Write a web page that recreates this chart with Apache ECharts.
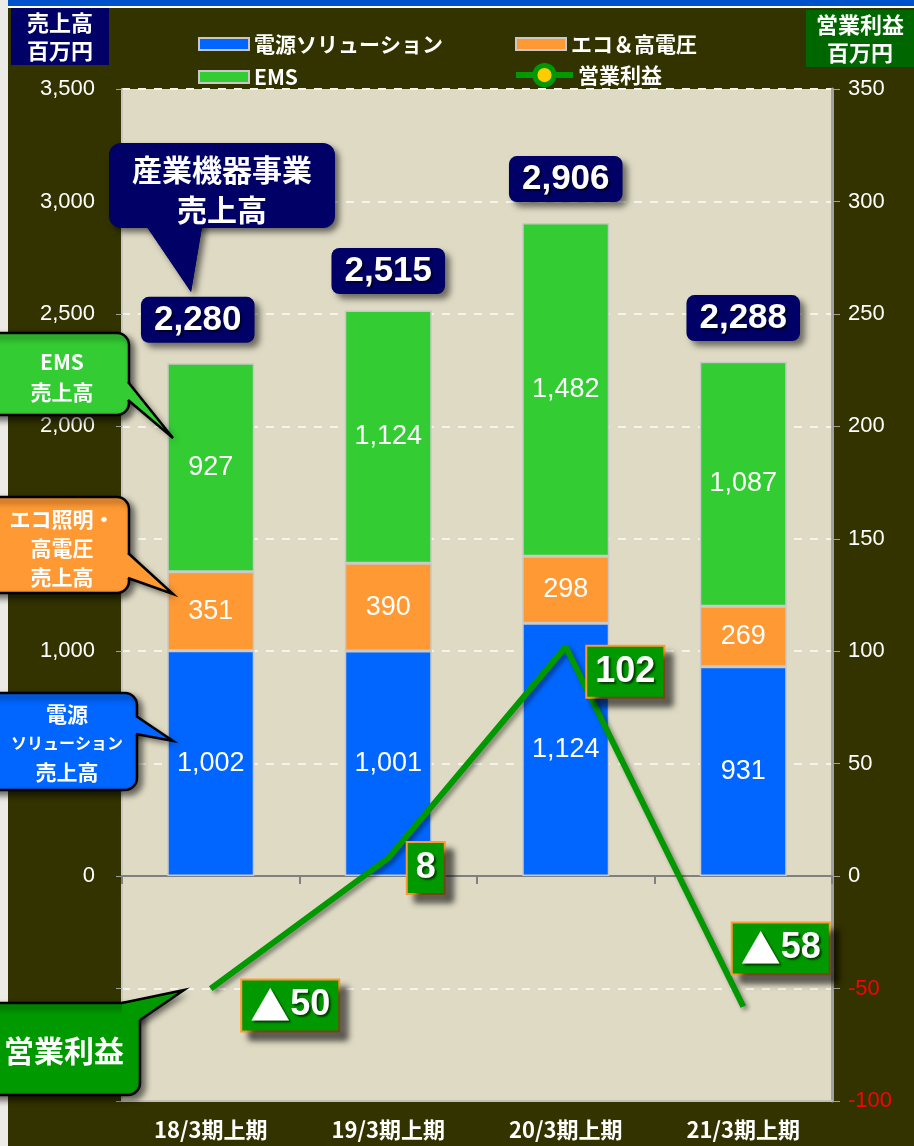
<!DOCTYPE html>
<html lang="ja">
<head>
<meta charset="utf-8">
<title>産業機器事業 売上高・営業利益</title>
<script src="https://cdn.jsdelivr.net/npm/echarts@6.0.0/dist/echarts.min.js"></script>
<style>
  html, body { margin: 0; padding: 0; background: #333300; }
  #chart { width: 914px; height: 1146px; }
</style>
</head>
<body>
<div id="chart"></div>
<script>
// data (百万円)
const categories = ['18/3期上期', '19/3期上期', '20/3期上期', '21/3期上期']
const powerSolution = [1002, 1001, 1124, 931]
const ecoHighVoltage = [351, 390, 298, 269]
const ems = [927, 1124, 1482, 1087]
const salesTotal = [2280, 2515, 2906, 2288]
const operatingProfit = [-50, 8, 102, -58]
const salesRange = [-1000, 3500, 500]
const profitRange = [-100, 350, 50]

const jp = "'Noto Sans CJK JP', sans-serif"
const num = "'Liberation Sans', Arial, sans-serif"
const fmt = (v) => v.toLocaleString('en-US')

// label nudges so the boxes sit where the original put them
const totalOffsets = [[-13, 0], [0, 4], [0, 0], [0, 0]]
const profitOffsets = [[31, 17], [19, 10], [21, 25], [-11, -58]]

const barSeries = (name, data, color) => ({
  name,
  type: 'bar',
  stack: 'sales',
  data,
  barWidth: '49%',
  itemStyle: { color, borderColor: '#c8c8c8', borderWidth: 1.5 },
  label: {
    show: true,
    position: 'inside',
    color: '#fff',
    fontSize: 27,
    fontFamily: num,
    formatter: (p) => fmt(p.value),
  },
})

const callout = ({ fill, rect, base, tip, text, font, lineHeight, cx, cy, stroke = true, rich }) => {
  const [b1, b2, b1in, b2in] = base
  const shadow = { shadowBlur: 6, shadowColor: 'rgba(0,0,0,0.55)', shadowOffsetX: 4, shadowOffsetY: 4 }
  const items = [
    {
      type: 'polygon',
      shape: { points: [b1in, b1, tip, b2, b2in] },
      style: { fill, ...shadow },
    },
    {
      type: 'rect',
      shape: { x: rect[0], y: rect[1], width: rect[2], height: rect[3], r: 12 },
      style: { fill, stroke: stroke ? '#000' : null, lineWidth: 2.5, ...shadow },
    },
    {
      type: 'polygon',
      shape: { points: [b1in, b1, tip, b2, b2in] },
      style: { fill },
    },
  ]
  if (stroke) {
    items.push({
      type: 'polyline',
      shape: { points: [b1, tip, b2] },
      style: { stroke: '#000', lineWidth: 2.5, fill: null },
    })
  }
  items.push({
    type: 'text',
    x: cx,
    y: cy,
    style: {
      text,
      fill: '#fff',
      font,
      lineHeight,
      align: 'center',
      verticalAlign: 'middle',
      rich,
    },
  })
  return items
}

const legendText = { color: '#fff', fontSize: 21, fontWeight: 'bold', fontFamily: jp, lineHeight: 24 }

const chart = echarts.init(document.getElementById('chart'))

chart.setOption({
  animation: false,
  backgroundColor: '#333300',
  grid: {
    left: 122,
    right: 82,
    top: 89,
    bottom: 45,
    show: true,
    backgroundColor: '#dedac4',
    borderWidth: 0,
  },
  legend: [
    {
      data: [
        { name: '電源ソリューション', icon: 'rect' },
        { name: 'EMS', icon: 'rect' },
      ],
      orient: 'vertical',
      left: 193,
      top: 27,
      itemWidth: 50,
      itemHeight: 12,
      itemGap: 9,
      textStyle: legendText,
    },
    {
      data: [{ name: 'エコ＆高電圧', icon: 'rect' }],
      orient: 'vertical',
      left: 510,
      top: 27,
      itemWidth: 50,
      itemHeight: 12,
      textStyle: legendText,
    },
    {
      data: [
        {
          name: '営業利益',
          itemStyle: { color: '#ffcc00', borderColor: '#009900', borderWidth: 5 },
          lineStyle: { color: '#009900', width: 6 },
        },
      ],
      orient: 'vertical',
      left: 508,
      top: 58,
      itemWidth: 57,
      itemHeight: 24,
      textStyle: legendText,
    },
  ],
  xAxis: [
    {
      type: 'category',
      data: categories,
      position: 'bottom',
      axisLine: { show: true, onZero: false, lineStyle: { color: '#c0c0b8', width: 2 } },
      axisTick: { show: false },
      axisLabel: { color: '#fff', fontSize: 22, fontWeight: 'bold', fontFamily: jp, margin: 18 },
    },
    {
      type: 'category',
      data: categories,
      position: 'bottom',
      axisLine: { show: true, onZero: true, lineStyle: { color: '#808080', width: 2 } },
      axisTick: { show: true, length: 8, lineStyle: { color: '#808080', width: 2 } },
      axisLabel: { show: false },
    },
  ],
  yAxis: [
    {
      type: 'value',
      min: salesRange[0],
      max: salesRange[1],
      interval: salesRange[2],
      position: 'left',
      axisLine: { show: true, lineStyle: { color: '#c8c8c0', width: 2 } },
      axisTick: { show: true, length: 6, lineStyle: { color: '#a0a0a0' } },
      axisLabel: {
        color: '#fff',
        fontSize: 22,
        fontFamily: num,
        margin: 27,
        formatter: (v) => (v < 0 ? '' : fmt(v)),
      },
      splitLine: { show: true, lineStyle: { color: '#f4f4ee', type: [8, 8], width: 2 } },
    },
    {
      type: 'value',
      min: profitRange[0],
      max: profitRange[1],
      interval: profitRange[2],
      position: 'right',
      axisLine: { show: true, lineStyle: { color: '#a0a0a0', width: 3 } },
      axisTick: { show: true, length: 8, lineStyle: { color: '#a0a0a0' } },
      axisLabel: {
        fontSize: 22,
        fontFamily: num,
        margin: 16,
        color: (v) => (Number(v) < 0 ? '#ff0000' : '#fff'),
      },
      splitLine: { show: false },
    },
  ],
  series: [
    barSeries('電源ソリューション', powerSolution, '#0066ff'),
    barSeries('エコ＆高電圧', ecoHighVoltage, '#ff9933'),
    barSeries('EMS', ems, '#33cc33'),
    {
      name: 'total',
      type: 'scatter',
      data: salesTotal.map((v, i) => ({ value: v, label: { offset: totalOffsets[i] } })),
      symbolSize: 1,
      itemStyle: { color: 'rgba(0,0,0,0)', opacity: 1 },
      silent: true,
      z: 5,
      label: {
        show: true,
        position: 'top',
        distance: 20,
        formatter: (p) => fmt(p.value),
        color: '#fff',
        fontSize: 35,
        fontWeight: 'bold',
        fontFamily: num,
        lineHeight: 36,
        backgroundColor: '#000066',
        borderRadius: 8,
        padding: [5, 13],
        shadowColor: 'rgba(0,0,0,0.5)',
        shadowBlur: 6,
        shadowOffsetX: 5,
        shadowOffsetY: 5,
        textShadowColor: 'rgba(0,0,0,0.6)',
        textShadowBlur: 2,
        textShadowOffsetX: 2,
        textShadowOffsetY: 2,
      },
    },
    {
      name: '営業利益',
      type: 'line',
      yAxisIndex: 1,
      data: operatingProfit,
      symbol: 'circle',
      showSymbol: false,
      z: 6,
      itemStyle: { color: '#009900' },
      lineStyle: {
        color: '#009900',
        width: 6,
        shadowColor: 'rgba(0,0,0,0.4)',
        shadowBlur: 4,
        shadowOffsetX: 3,
        shadowOffsetY: 3,
      },
    },
    {
      name: 'profitLabel',
      type: 'scatter',
      yAxisIndex: 1,
      data: operatingProfit.map((v, i) => ({ value: v, label: { offset: profitOffsets[i] } })),
      symbolSize: 1,
      itemStyle: { color: 'rgba(0,0,0,0)', opacity: 1 },
      silent: true,
      z: 7,
      label: {
        show: true,
        position: 'right',
        distance: 0,
        formatter: (p) => (p.value < 0 ? '{t|▲}' + Math.abs(p.value) : String(p.value)),
        color: '#fff',
        fontSize: 36,
        fontWeight: 'bold',
        fontFamily: num,
        lineHeight: 38,
        backgroundColor: '#009900',
        borderColor: '#ff9933',
        borderWidth: 2,
        padding: [6, 8],
        shadowColor: 'rgba(0,0,0,0.55)',
        shadowBlur: 6,
        shadowOffsetX: 8,
        shadowOffsetY: 8,
        textShadowColor: 'rgba(0,0,0,0.6)',
        textShadowBlur: 2,
        textShadowOffsetX: 2,
        textShadowOffsetY: 2,
        rich: {
          t: { fontFamily: jp, fontSize: 40, color: '#fff', lineHeight: 38 },
        },
      },
    },
  ],
  graphic: [
    // frame strips
    { type: 'rect', shape: { x: 0, y: 0, width: 914, height: 6 }, style: { fill: '#0052cc' }, z: 80 },
    { type: 'rect', shape: { x: 0, y: 6, width: 914, height: 2 }, style: { fill: '#ffffff' }, z: 80 },
    { type: 'rect', shape: { x: 0, y: 0, width: 8, height: 1146 }, style: { fill: '#ecebe6' }, z: 80 },
    // axis unit boxes
    { type: 'rect', shape: { x: 11, y: 8, width: 98, height: 57 }, style: { fill: '#000066' }, z: 100 },
    {
      type: 'text', x: 60, y: 37, z: 101,
      style: { text: '売上高\n百万円', fill: '#fff', font: `bold 22px ${jp}`, lineHeight: 28, align: 'center', verticalAlign: 'middle' },
    },
    { type: 'rect', shape: { x: 806, y: 10, width: 108, height: 57 }, style: { fill: '#006600' }, z: 100 },
    {
      type: 'text', x: 860, y: 39, z: 101,
      style: { text: '営業利益\n百万円', fill: '#fff', font: `bold 22px ${jp}`, lineHeight: 28, align: 'center', verticalAlign: 'middle' },
    },
    // callouts
    ...callout({
      fill: '#000066', stroke: false,
      rect: [109, 143, 226, 85],
      base: [[147, 227], [202, 227], [147, 215], [202, 215]],
      tip: [191, 292],
      text: '産業機器事業\n売上高', font: `bold 30px ${jp}`, lineHeight: 40, cx: 222, cy: 190,
    }).map((e) => ({ ...e, z: 90 })),
    ...callout({
      fill: '#33cc33',
      rect: [-20, 333, 149, 82],
      base: [[128, 382], [128, 400], [118, 382], [118, 400]],
      tip: [173, 438],
      text: 'EMS\n売上高', font: `bold 21px ${jp}`, lineHeight: 30, cx: 62, cy: 377,
    }).map((e) => ({ ...e, z: 90 })),
    ...callout({
      fill: '#ff9933',
      rect: [-20, 497, 149, 96],
      base: [[128, 553], [128, 578], [118, 553], [118, 578]],
      tip: [173, 594],
      text: 'エコ照明・\n高電圧\n売上高', font: `bold 21px ${jp}`, lineHeight: 29, cx: 62, cy: 548,
    }).map((e) => ({ ...e, z: 90 })),
    ...callout({
      fill: '#0066ff',
      rect: [-20, 693, 157, 97],
      base: [[136, 716], [136, 734], [126, 716], [126, 734]],
      tip: [173, 741],
      text: '電源\n{s|ソリューション}\n売上高', font: `bold 21px ${jp}`, lineHeight: 29, cx: 67, cy: 743,
      rich: { s: { font: `bold 16px ${jp}`, fill: '#fff', lineHeight: 29 } },
    }).map((e) => ({ ...e, z: 90 })),
    ...callout({
      fill: '#009900',
      rect: [-20, 1003, 160, 92],
      base: [[122, 1003], [140, 1020], [122, 1012], [130, 1020]],
      tip: [184, 990],
      text: '営業利益', font: `bold 30px ${jp}`, lineHeight: 36, cx: 64, cy: 1051,
    }).map((e) => ({ ...e, z: 90 })),
  ],
})
</script>
</body>
</html>
